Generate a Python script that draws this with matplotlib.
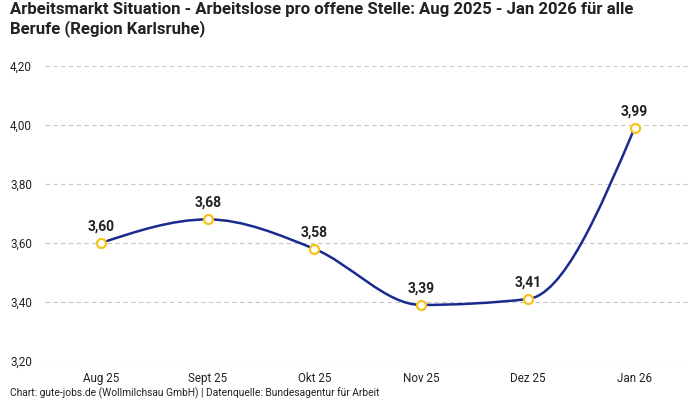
import numpy as np
import matplotlib
matplotlib.use("Agg")
import matplotlib.pyplot as plt
from matplotlib.path import Path
from matplotlib.patches import PathPatch

months = ["Aug 25", "Sept 25", "Okt 25", "Nov 25", "Dez 25", "Jan 26"]
values = [3.60, 3.68, 3.58, 3.39, 3.41, 3.99]
y_ticks = [3.20, 3.40, 3.60, 3.80, 4.00, 4.20]

title = ("Arbeitsmarkt Situation - Arbeitslose pro offene Stelle: Aug 2025 - Jan 2026 für alle\n"
         "Berufe (Region Karlsruhe)")
footer = "Chart: gute-jobs.de (Wollmilchsau GmbH) | Datenquelle: Bundesagentur für Arbeit"

FONT = ["Roboto", "DejaVu Sans"]
plt.rcParams["font.family"] = FONT

LINE = "#1b2a8e"
MARK = "#f7c21b"
TXT = "#222222"


def monotone_path(xs, ys):
    """d3 curveMonotoneX as cubic Bezier path."""
    xs = np.asarray(xs, float)
    ys = np.asarray(ys, float)
    n = len(xs)
    h = np.diff(xs)
    s = np.diff(ys) / h
    t = np.zeros(n)
    for i in range(1, n - 1):
        h0, h1 = h[i - 1], h[i]
        s0, s1 = s[i - 1], s[i]
        p = (s0 * h1 + s1 * h0) / (h0 + h1)
        t[i] = (np.sign(s0) + np.sign(s1)) * min(abs(s0), abs(s1), 0.5 * abs(p))
    t[0] = (3 * s[0] - t[1]) / 2
    t[-1] = (3 * s[-1] - t[-2]) / 2
    verts = [(xs[0], ys[0])]
    codes = [Path.MOVETO]
    for i in range(n - 1):
        dx = (xs[i + 1] - xs[i]) / 3
        verts += [(xs[i] + dx, ys[i] + dx * t[i]),
                  (xs[i + 1] - dx, ys[i + 1] - dx * t[i + 1]),
                  (xs[i + 1], ys[i + 1])]
        codes += [Path.CURVE4] * 3
    return Path(verts, codes)


fig = plt.figure(figsize=(7, 4), dpi=100)
ax = fig.add_axes([45 / 700, 1 - 361 / 400, (688 - 45) / 700, (361 - 66) / 400])

x = np.arange(len(months))
ax.add_patch(PathPatch(monotone_path(x, values), facecolor="none",
                       edgecolor=LINE, lw=1.8, zorder=3))
ax.scatter(x, values, s=42, facecolor="white", edgecolor=MARK, linewidth=1.6, zorder=4)

for xi, v in zip(x, values):
    ax.annotate(f"{v:.2f}".replace(".", ","), (xi, v), xytext=(0, 7),
                textcoords="offset points", ha="center", va="bottom",
                fontsize=10, fontweight="bold", color=TXT, zorder=5)

ax.set_xlim(-0.525, 5.5)
ax.set_ylim(3.2, 4.2)
ax.set_yticks(y_ticks)
ax.set_yticklabels([f"{v:.2f}".replace(".", ",") for v in y_ticks])
ax.set_xticks(x)
ax.set_xticklabels(months)
ax.tick_params(axis="both", length=0, labelsize=8.4, labelcolor=TXT)
ax.tick_params(axis="x", pad=8)
ax.tick_params(axis="y", pad=0)
for lab in ax.get_yticklabels():
    lab.set_horizontalalignment("left")
    lab.set_x(-35 / 643)
ax.grid(axis="y", color="#c8c8c8", linestyle=(0, (4, 3)), linewidth=0.8)
ax.set_axisbelow(True)
for sp in ax.spines.values():
    sp.set_visible(False)

fig.text(10 / 700, 1 - 2 / 400, title, ha="left", va="top", fontsize=12.1,
         fontweight="bold", color=TXT, linespacing=1.25)
fig.text(10 / 700, 1 - 393 / 400, footer, ha="left", va="center", fontsize=7.4, color=TXT)

fig.savefig("out.png", dpi=100)
